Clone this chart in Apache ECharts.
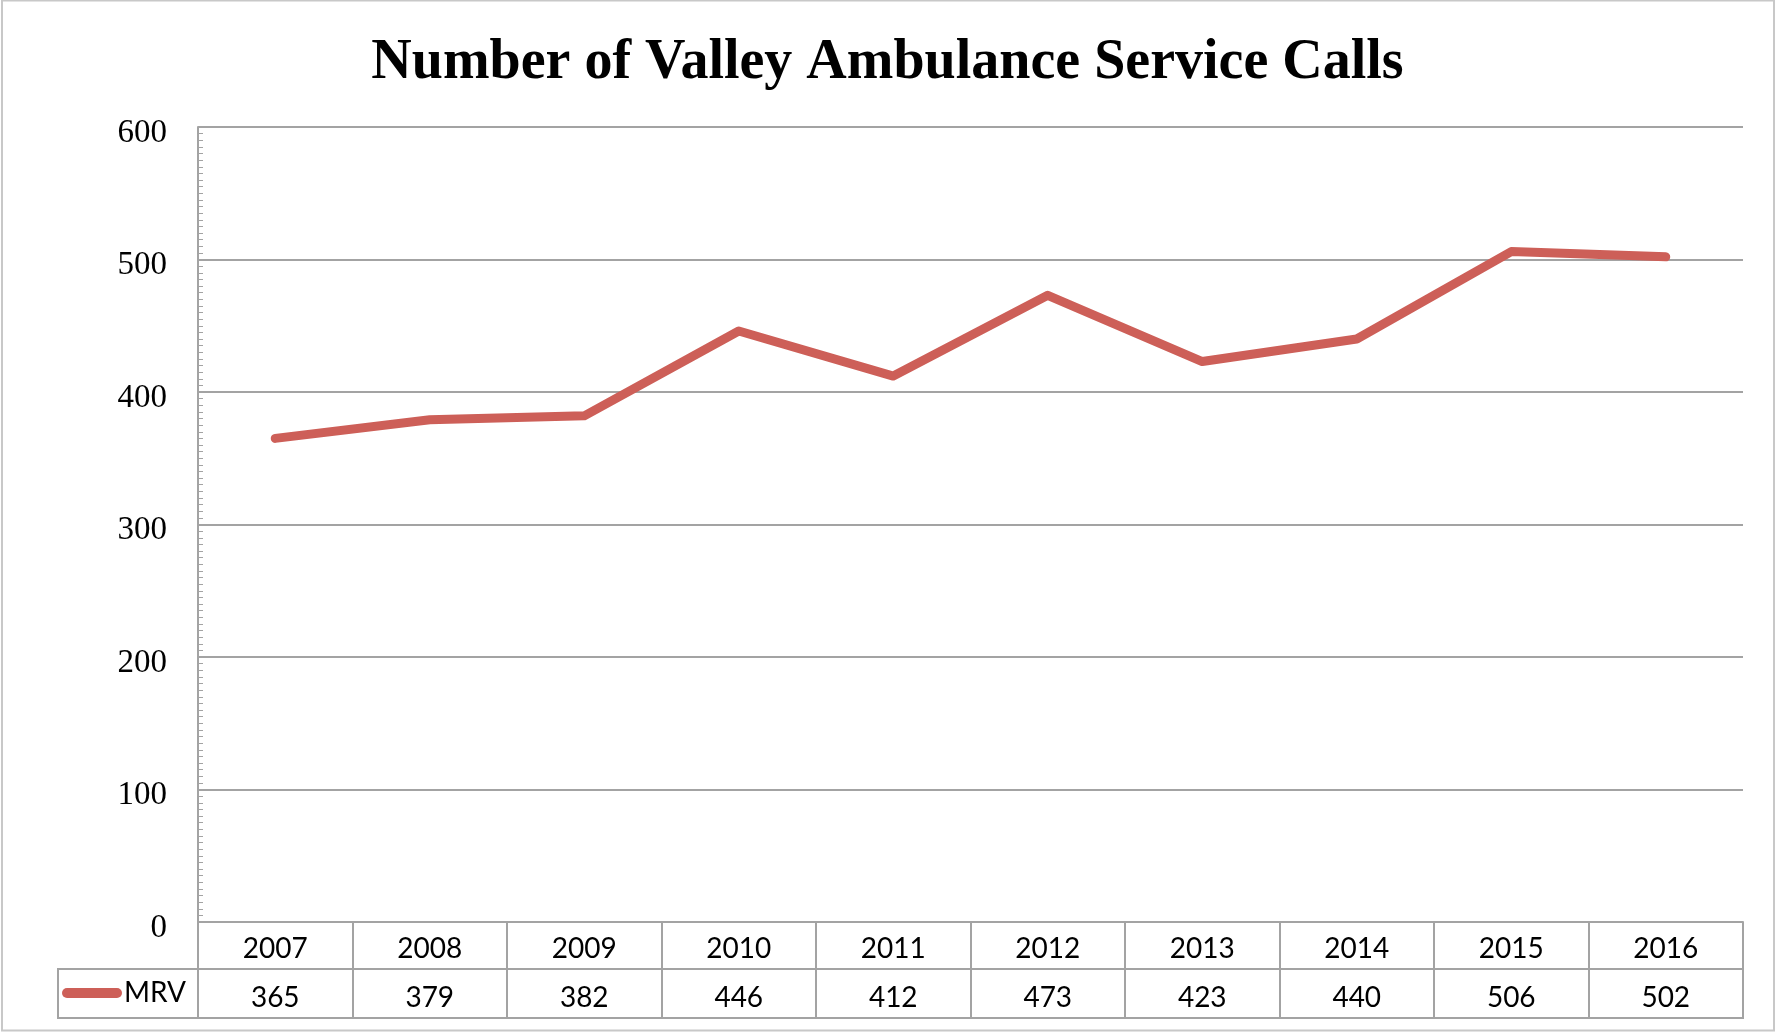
<!DOCTYPE html>
<html>
<head>
<meta charset="utf-8">
<title>Number of Valley Ambulance Service Calls</title>
<script src="https://cdn.jsdelivr.net/npm/echarts@6/dist/echarts.min.js"></script>
<style>
  html, body { margin: 0; padding: 0; background: #ffffff; }
  #chart { width: 1775px; height: 1032px; }
</style>
</head>
<body>
<div id="chart"></div>
<script>
// Yearly service call counts
const years = ['2007', '2008', '2009', '2010', '2011', '2012', '2013', '2014', '2015', '2016'];
const mrvCalls = [365, 379, 382, 446, 412, 473, 423, 440, 506, 502];
const seriesName = 'MRV';
const chartTitle = 'Number of Valley Ambulance Service Calls';

const lineColor = '#cd5f58';
const rule = '#a3a3a3';

const chart = echarts.init(document.getElementById('chart'), null, { renderer: 'canvas' });

chart.setOption({
  backgroundColor: '#ffffff',
  animation: false,
  title: {
    text: chartTitle,
    left: 'center',
    top: 31,
    textStyle: {
      fontFamily: 'Liberation Serif',
      fontWeight: 'bold',
      fontSize: 56,
      color: '#000000'
    }
  },
  legend: {
    data: [seriesName],
    left: 62,
    top: 979,
    padding: 0,
    itemWidth: 60,
    itemHeight: 10,
    icon: 'path://M5,0 L55,0 A5,5 0 0 1 55,10 L5,10 A5,5 0 0 1 5,0 Z',
    textStyle: { fontFamily: 'Lato', fontSize: 28, color: '#000000', padding: [0, 0, 0, -3] }
  },
  grid: { left: 198, right: 32, top: 127, bottom: 110, containLabel: false },
  xAxis: [
    {
      type: 'category',
      data: years,
      boundaryGap: true,
      position: 'bottom',
      axisLine: { show: true, lineStyle: { color: rule, width: 2 } },
      axisTick: { show: true, length: 47, lineStyle: { color: rule, width: 2 } },
      axisLabel: { margin: 13, fontFamily: 'Lato', fontSize: 28, color: '#000000' },
      splitLine: { show: false }
    },
    {
      // data-table row showing each year's value
      type: 'category',
      data: mrvCalls.map(String),
      boundaryGap: true,
      position: 'bottom',
      offset: 47,
      axisLine: { show: true, lineStyle: { color: rule, width: 2 } },
      axisTick: { show: true, length: 49, lineStyle: { color: rule, width: 2 } },
      axisLabel: { margin: 15, fontFamily: 'Lato', fontSize: 28, color: '#000000' },
      splitLine: { show: false }
    }
  ],
  yAxis: {
    type: 'value',
    min: 0,
    max: 600,
    interval: 100,
    axisLine: { show: true, lineStyle: { color: rule, width: 2 } },
    axisTick: { show: true, inside: true, length: 6, lineStyle: { color: rule, width: 1 } },
    minorTick: { show: true, splitNumber: 20, length: 5, lineStyle: { color: rule, width: 1 } },
    axisLabel: {
      margin: 31,
      verticalAlign: 'top',
      lineHeight: 12,
      fontFamily: 'Liberation Serif',
      fontSize: 33,
      color: '#000000'
    },
    splitLine: { show: true, lineStyle: { color: rule, width: 2 } }
  },
  series: [
    {
      name: seriesName,
      type: 'line',
      data: mrvCalls,
      symbol: 'none',
      lineStyle: { color: lineColor, width: 9, cap: 'round', join: 'round' },
      itemStyle: { color: lineColor }
    }
  ],
  graphic: [
    {
      // outer chart frame
      type: 'rect',
      shape: { x: 2, y: 0.5, width: 1772, height: 1030 },
      style: { fill: 'none', stroke: '#c8c8c8', lineWidth: 2 },
      silent: true
    },
    {
      // value row of the data table, including the legend cell
      type: 'rect',
      shape: { x: 58, y: 969, width: 1685, height: 49 },
      style: { fill: 'none', stroke: rule, lineWidth: 2 },
      silent: true
    }
  ]
});
</script>
</body>
</html>
